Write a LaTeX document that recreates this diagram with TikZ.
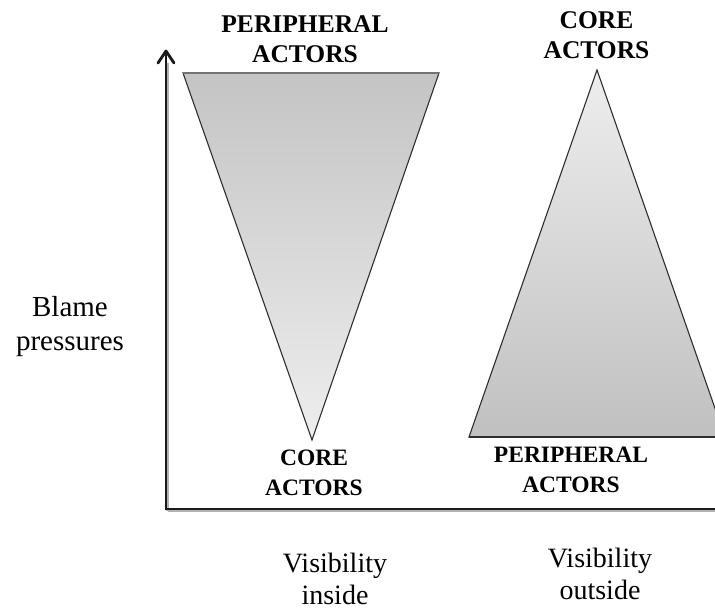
\documentclass[tikz,border=0pt]{standalone}
\usepackage{fontspec}
\setmainfont{Liberation Serif}
\usetikzlibrary{arrows.meta}
\definecolor{axiscol}{HTML}{1A1A1A}
\definecolor{edgecol}{HTML}{2E2E2E}
\definecolor{darkfill}{HTML}{C4C4C4}
\definecolor{lightfill}{HTML}{EEEEEE}
\tikzset{
  lbl/.style={inner sep=0pt, outer sep=0pt, anchor=north, align=center},
  bigcap/.style={lbl, font=\fontsize{25.5}{30}\selectfont\bfseries},
  smallcap/.style={lbl, font=\fontsize{23.5}{30}\selectfont\bfseries},
  axislbl/.style={lbl, font=\fontsize{28}{32}\selectfont},
  axisline/.style={line width=2.8pt, draw=axiscol},
  axisshadow/.style={line width=2.5pt, draw=black!30},
  tri/.style={draw=edgecol, line width=1.1pt, line join=miter},
}
\begin{document}
\begin{tikzpicture}[x=1pt,y=-1pt]
\useasboundingbox (0,0) rectangle (715,609);
\begin{scope}
\clip (0,0) rectangle (715,609);
% coordinates
\coordinate (origin) at (166,509);
\coordinate (ytop) at (166,51);
\coordinate (xend) at (716,509);
\coordinate (barbL) at (158,63);
\coordinate (barbR) at (174,63);
\coordinate (L1) at (183,73);
\coordinate (L2) at (439,73);
\coordinate (L3) at (312,440);
\coordinate (R1) at (597,70);
\coordinate (R2) at (469,437);
\coordinate (R3) at (725,437);
% triangles
\shade[top color=darkfill, bottom color=lightfill] (L1) -- (L2) -- (L3) -- cycle;
\draw[tri] (L1) -- (L2) -- (L3) -- cycle;
\draw[line width=1.6pt, draw=black!55] (L1) -- (L2);
\shade[top color=lightfill, bottom color=darkfill!98!black] (R1) -- (R3) -- (R2) -- cycle;
\draw[tri] (R1) -- (R3) -- (R2) -- cycle;
\draw[line width=1.6pt, draw=edgecol] (R2) -- (R3);
% axes
\draw[axisshadow] ([shift={(1.5,1.5)}]origin) -- ([shift={(1.5,1.5)}]xend);
\draw[axisshadow] ([shift={(1.5,1.5)}]origin) -- ([shift={(1.5,12)}]ytop);
\draw[axisline, line cap=rect] (origin) -- (xend);
\draw[axisline] (origin) -- (ytop);
\draw[axisline, line cap=round, line join=round] (barbL) -- (ytop) -- (barbR);
\end{scope}
% labels
\node[bigcap] (ptop) at (305,16) {PERIPHERAL\\ACTORS};
\node[bigcap] (ctop) at (596.5,12) {CORE\\ACTORS};
\node[smallcap] (cbot) at (314,450) {CORE\\ACTORS};
\node[smallcap] (pbot) at (571,447) {PERIPHERAL\\ACTORS};
\node[lbl, font=\fontsize{29}{34}\selectfont] (blame) at (70,296) {Blame\\pressures};
\node[axislbl] (visin) at (335,553) {Visibility\\inside};
\node[axislbl] (visout) at (600,548) {Visibility\\outside};
\end{tikzpicture}
\end{document}
